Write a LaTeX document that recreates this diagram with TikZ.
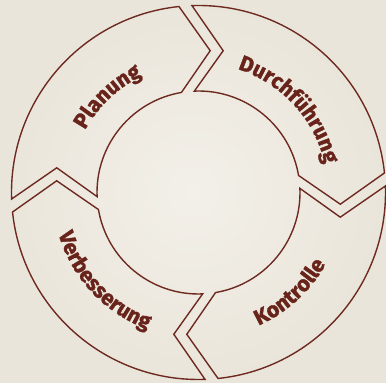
\documentclass[tikz,border=0pt]{standalone}
\usepackage{fontspec}
\setmainfont{Fira Sans}
\newfontfamily\heavyfont[BoldFeatures={FakeBold=1.6}]{Fira Sans}
\usetikzlibrary{decorations.text}
\definecolor{paper}{RGB}{234,229,218}
\definecolor{paperlight}{RGB}{243,240,233}
\definecolor{ink}{RGB}{110,42,32}
\definecolor{inktext}{RGB}{104,36,26}
\tikzset{
  segline/.style={draw=ink, line width=1.4pt, line join=miter},
  ringlabel/.style={decorate, decoration={text along path, text align=center,
     text color=inktext, text={|\heavyfont\bfseries\fontsize{21.5}{25}\selectfont|#1}}},
}
\newcommand\pdcaseg[1]{%
  \begin{scope}[rotate=#1]
    \draw[segline] (6:187pt) arc[start angle=6,end angle=92,radius=187pt]
      -- (80.12:143.9pt) -- (92.33:101.5pt)
      arc[start angle=92.33,end angle=9.67,radius=101.5pt]
      -- (-4.72:142.3pt) -- cycle;
  \end{scope}}
\begin{document}
\begin{tikzpicture}
\useasboundingbox (0,0) rectangle (386pt,383pt);
\fill[paper] (0,0) rectangle (386pt,383pt);
\shade[inner color=paperlight, outer color=paper] (0,0) rectangle (386pt,383pt);
\begin{scope}[shift={(198.5pt,190.5pt)}]
  \pdcaseg{0}
  \pdcaseg{90}
  \pdcaseg{180}
  \pdcaseg{270}
  \path[ringlabel=Planung] (183.5:129.5pt) arc[start angle=183.5,end angle=83.5,radius=129.5pt];
  \path[ringlabel=Durchführung] (102.5:129.5pt) arc[start angle=102.5,end angle=-17.5,radius=129.5pt];
  \path[ringlabel=Verbesserung] (163:146pt) arc[start angle=163,end angle=283,radius=146pt];
  \path[ringlabel=Kontrolle] (262.5:146pt) arc[start angle=262.5,end angle=362.5,radius=146pt];
\end{scope}
\end{tikzpicture}
\end{document}
